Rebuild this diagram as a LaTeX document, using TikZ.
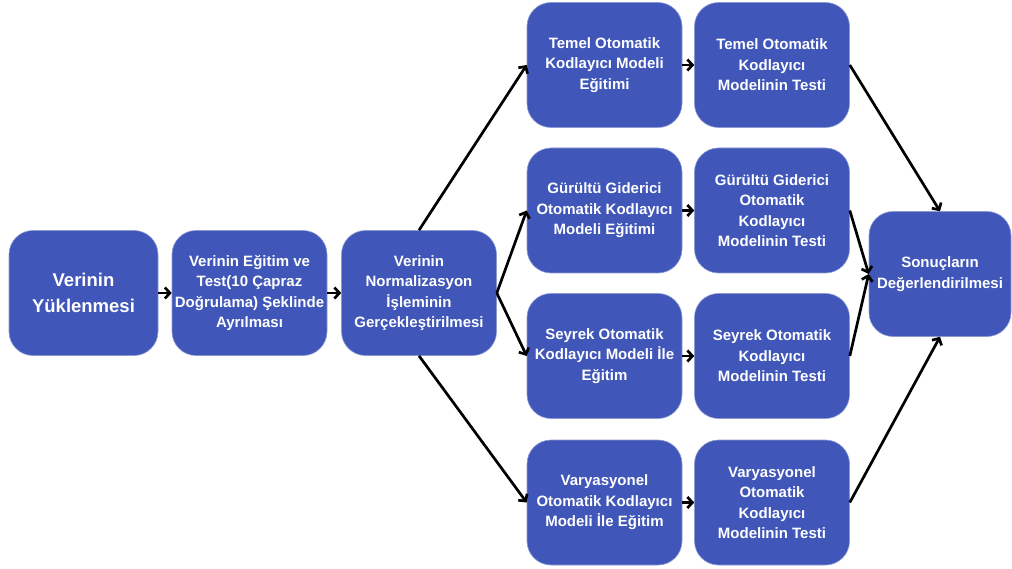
\documentclass[tikz,border=0pt]{standalone}
\usepackage{fontspec}
\setmainfont{Liberation Sans}
\usepackage{xcolor}
\definecolor{Col1}{RGB}{64,86,184}
\usepackage{tikz}
\usetikzlibrary{arrows.meta}
\tikzstyle{Box}=[rectangle,rounded corners=24pt,fill=Col1,draw=Col1!60!white,
line width=.6pt,text=white,align=center,minimum height=125pt,minimum width=155pt,
inner sep=0pt,font=\bfseries\fontsize{15}{20.5}\selectfont]
\tikzstyle{BigBox}=[Box,font=\bfseries\fontsize{18.5}{26}\selectfont]
\tikzstyle{Edge}=[draw=black,line width=2.7pt,-{Straight Barb[length=5pt,width=11pt]}]

\begin{document}
\begin{tikzpicture}[x=1pt,y=-1pt]
        \useasboundingbox (0,0) rectangle (1012,569);
        \node[BigBox,minimum width=149pt](L)at(83.5,293){Verinin\\Yüklenmesi};
        \node[Box](S)at(249.5,293){Verinin Eğitim ve\\Test(10 Çapraz\\Doğrulama) Şeklinde\\Ayrılması};
        \node[Box](N)at(419,293){Verinin\\Normalizasyon\\İşleminin\\Gerçekleştirilmesi};
        \node[Box](T1)at(604.5,65){Temel Otomatik\\Kodlayıcı Modeli\\Eğitimi};
        \node[Box](T2)at(604.5,210.5){Gürültü Giderici\\Otomatik Kodlayıcı\\Modeli Eğitimi};
        \node[Box](T3)at(604.5,356){Seyrek Otomatik\\Kodlayıcı Modeli İle\\Eğitim};
        \node[Box](T4)at(604.5,502.5){Varyasyonel\\Otomatik Kodlayıcı\\Modeli İle Eğitim};
        \node[Box](E1)at(772,65){Temel Otomatik\\Kodlayıcı\\Modelinin Testi};
        \node[Box](E2)at(772,210.5){Gürültü Giderici\\Otomatik\\Kodlayıcı\\Modelinin Testi};
        \node[Box](E3)at(772,356){Seyrek Otomatik\\Kodlayıcı\\Modelinin Testi};
        \node[Box](E4)at(772,502.5){Varyasyonel\\Otomatik\\Kodlayıcı\\Modelinin Testi};
        \node[Box,minimum width=142pt](R)at(940,274){Sonuçların\\Değerlendirilmesi};
        \draw[Edge](L)--(S);
        \draw[Edge](S)--(N);
        \draw[Edge](N.north)--(T1.west);
        \draw[Edge](N.east)--(T2.west);
        \draw[Edge](N.east)--(T3.west);
        \draw[Edge](N.south)--(T4.west);
        \draw[Edge](T1)--(E1);
        \draw[Edge](T2)--(E2);
        \draw[Edge](T3)--(E3);
        \draw[Edge](T4)--(E4);
        \draw[Edge](E1.east)--(R.north);
        \draw[Edge](E2.east)--(R.west);
        \draw[Edge](E3.east)--(R.west);
        \draw[Edge](E4.east)--(R.south);
    \end{tikzpicture}
\end{document}
